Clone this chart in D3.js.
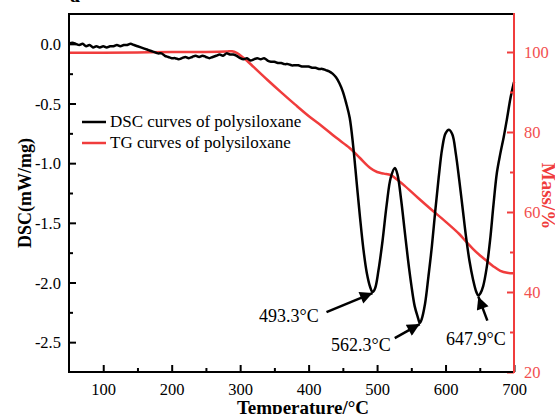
<!DOCTYPE html>
<html>
<head>
<meta charset="utf-8">
<script src="https://cdn.jsdelivr.net/npm/d3@7"></script>
<style>
  html, body { margin: 0; padding: 0; background: #fff; }
  svg { display: block; }
  svg text { font-family: "Liberation Serif", "Times New Roman", serif !important; }
</style>
</head>
<body>
<svg id="chart" width="555" height="414" font-family="Liberation Serif, serif"></svg>
<script>
// ---------- data ----------
const dscTemp = [50,55,60,65,70,75,80,85,90,95,100,105,110,115,120,125,130,135,140,145,150,155,160,165,170,175,180,185,190,195,200,205,210,215,220,225,230,235,240,245,250,255,260,265,270,275,280,285,290,295,300,305,310,315,320,325,330,335,340,345,350,355,360,365,370,375,380,385,390,395,400,405,410,415,420,425,430,435,440,445,450,455,460,465,470,475,480,485,490,493.3,497,502,508,514,520,526,530,535,540,545,550,555,560,562.3,565,570,575,580,585,590,595,600,605,610,615,620,625,630,635,640,645,647.9,651,655,660,665,670,675,680,685,690,695,700];
const dscValue = [0.00,0.01,0.00,-0.01,0.00,-0.02,-0.01,-0.03,-0.02,-0.03,-0.02,-0.03,-0.02,-0.02,-0.01,-0.02,-0.01,-0.01,0.00,-0.01,-0.02,-0.03,-0.04,-0.05,-0.06,-0.07,-0.08,-0.08,-0.10,-0.11,-0.12,-0.12,-0.13,-0.12,-0.11,-0.12,-0.11,-0.10,-0.11,-0.10,-0.11,-0.12,-0.11,-0.10,-0.09,-0.10,-0.08,-0.09,-0.09,-0.10,-0.12,-0.13,-0.12,-0.14,-0.13,-0.12,-0.13,-0.12,-0.14,-0.15,-0.15,-0.16,-0.16,-0.17,-0.17,-0.18,-0.18,-0.18,-0.19,-0.19,-0.19,-0.20,-0.20,-0.21,-0.21,-0.22,-0.23,-0.25,-0.28,-0.33,-0.40,-0.50,-0.62,-0.85,-1.15,-1.45,-1.72,-1.92,-2.04,-2.08,-2.05,-1.90,-1.65,-1.35,-1.12,-1.04,-1.10,-1.30,-1.55,-1.80,-2.02,-2.20,-2.30,-2.34,-2.31,-2.18,-1.95,-1.70,-1.40,-1.12,-0.88,-0.75,-0.72,-0.76,-0.92,-1.14,-1.38,-1.62,-1.82,-1.97,-2.08,-2.11,-2.09,-2.03,-1.88,-1.65,-1.35,-1.08,-0.92,-0.78,-0.62,-0.45,-0.32];

const tgTemp = [50,100,150,200,250,280,288,295,300,310,320,340,360,380,400,420,440,460,475,490,500,510,520,530,540,560,580,600,620,630,640,650,660,670,680,690,700];
const tgMass = [99.8,99.8,99.9,100.0,100.0,100.1,100.2,99.8,99.2,97.8,96.2,93.0,89.9,86.9,84.0,81.4,78.6,76.0,73.5,71.0,70.0,69.6,69.2,68.0,66.6,63.5,60.5,57.6,54.5,52.6,50.8,49.2,47.8,46.4,45.3,44.8,44.7];

const xTicks = [100,200,300,400,500,600,700];
const xMinorTicks = [150,250,350,450,550,650];
const yLeftTicks = [0,-0.5,-1.0,-1.5,-2.0,-2.5];
const yLeftLabels = ["0.0","-0.5","-1.0","-1.5","-2.0","-2.5"];
const yLeftMinor = [-0.25,-0.75,-1.25,-1.75,-2.25];
const yRightTicks = [20,40,60,80,100];
const yRightMinor = [30,50,70,90];

const peakTemps = [493.3, 562.3, 647.9];
const peakLabels = ["493.3°C", "562.3°C", "647.9°C"];
const legendLabels = ["DSC curves of polysiloxane", "TG curves of polysiloxane"];

// ---------- layout ----------
const FONT = '"Liberation Serif", "Times New Roman", serif';
const svg = d3.select("#chart");
const L = 69, R = 514, T = 14, B = 372;
const black = "#000";
const red = "#f03c3c";
const redText = "#f25050";

const x = d3.scaleLinear().domain([50, 700]).range([L, R]);
const yL = d3.scaleLinear().domain([-2.75, 0.25]).range([B, T]);
const yR = d3.scaleLinear().domain([20, 109.5]).range([B, T]);

const dsc = dscTemp.map((t, i) => ({t, v: dscValue[i]}));
const tg = tgTemp.map((t, i) => ({t, v: tgMass[i]}));

// curves
svg.append("path")
  .datum(tg)
  .attr("fill", "none")
  .attr("stroke", red)
  .attr("stroke-width", 2.5)
  .attr("d", d3.line().x(d => x(d.t)).y(d => yR(d.v)).curve(d3.curveCatmullRom));

svg.append("path")
  .datum(dsc)
  .attr("fill", "none")
  .attr("stroke", black)
  .attr("stroke-width", 2.5)
  .attr("stroke-linejoin", "round")
  .attr("d", d3.line().x(d => x(d.t)).y(d => yL(d.v)).curve(d3.curveCatmullRom));

// axes
const gx = svg.append("g").attr("transform", `translate(0,${B})`)
  .call(d3.axisBottom(x).tickValues(xTicks).tickSize(-7).tickPadding(11).tickFormat(d3.format("d")));
const gxm = svg.append("g").attr("transform", `translate(0,${B})`)
  .call(d3.axisBottom(x).tickValues(xMinorTicks).tickSize(-4).tickFormat(""));

const gy = svg.append("g").attr("transform", `translate(${L},0)`)
  .call(d3.axisLeft(yL).tickValues(yLeftTicks).tickSize(-7).tickPadding(8)
    .tickFormat((d, i) => yLeftLabels[i]));
const gym = svg.append("g").attr("transform", `translate(${L},0)`)
  .call(d3.axisLeft(yL).tickValues(yLeftMinor).tickSize(-4).tickFormat(""));

const gr = svg.append("g").attr("transform", `translate(${R},0)`)
  .call(d3.axisRight(yR).tickValues(yRightTicks).tickSize(-7).tickPadding(10).tickFormat(d3.format("d")));
const grm = svg.append("g").attr("transform", `translate(${R},0)`)
  .call(d3.axisRight(yR).tickValues(yRightMinor).tickSize(-4).tickFormat(""));

[gx, gxm, gy, gym, gr, grm].forEach(g => g.attr("font-family", FONT).attr("font-size", 16.5));
[gx, gxm, gy, gym].forEach(g => {
  g.select(".domain").remove();
  g.selectAll(".tick line").attr("stroke", black).attr("stroke-width", 2);
  g.selectAll(".tick text").attr("fill", black);
});
[gr, grm].forEach(g => {
  g.select(".domain").remove();
  g.selectAll(".tick line").attr("stroke", red).attr("stroke-width", 2);
  g.selectAll(".tick text").attr("fill", redText);
});
gy.selectAll(".tick text").attr("dy", "0.35em");
gr.selectAll(".tick text").attr("dy", "0.35em");

// frame
svg.append("line").attr("x1", L).attr("x2", R).attr("y1", T).attr("y2", T)
  .attr("stroke", black).attr("stroke-width", 2);
svg.append("line").attr("x1", L).attr("x2", L).attr("y1", T - 1).attr("y2", B + 1)
  .attr("stroke", black).attr("stroke-width", 2);
svg.append("line").attr("x1", L - 1).attr("x2", R).attr("y1", B).attr("y2", B)
  .attr("stroke", black).attr("stroke-width", 2);
svg.append("line").attr("x1", R).attr("x2", R).attr("y1", T - 1).attr("y2", B + 1)
  .attr("stroke", red).attr("stroke-width", 2);

// axis titles
svg.append("text").attr("transform", `translate(31,${(T + B) / 2}) rotate(-90)`)
  .attr("text-anchor", "middle").attr("font-family", FONT).attr("font-size", 18).attr("font-weight", "bold")
  .attr("fill", black).text("DSC(mW/mg)");
svg.append("text").attr("x", 303).attr("y", 414)
  .attr("text-anchor", "middle").attr("font-family", FONT).attr("font-size", 19).attr("font-weight", "bold")
  .attr("fill", black).text("Temperature/°C");
svg.append("text").attr("transform", `translate(542,196) rotate(90)`)
  .attr("text-anchor", "middle").attr("font-family", FONT).attr("font-size", 19).attr("font-weight", "bold")
  .attr("fill", red).text("Mass/%");

// partial panel letter at top-left
svg.append("text").attr("x", 70).attr("y", 2).attr("font-family", FONT).attr("font-size", 20)
  .attr("font-weight", "bold").attr("fill", black).text("a");

// legend
const legColors = [black, red];
legendLabels.forEach((lab, i) => {
  const yy = 122 + i * 21;
  svg.append("line").attr("x1", 82).attr("x2", 106).attr("y1", yy).attr("y2", yy)
    .attr("stroke", legColors[i]).attr("stroke-width", 2.5);
  svg.append("text").attr("x", 110).attr("y", yy + 5).attr("font-family", FONT).attr("font-size", 17)
    .attr("fill", black).text(lab);
});

// peak annotations
const defs = svg.append("defs");
defs.append("marker").attr("id", "arr").attr("viewBox", "0 0 10 10")
  .attr("refX", 10).attr("refY", 5).attr("markerWidth", 6).attr("markerHeight", 5)
  .attr("markerUnits", "strokeWidth").attr("orient", "auto")
  .append("path").attr("d", "M0,0 L10,5 L0,10 z").attr("fill", black);

const dscAt = t => dscValue[dscTemp.indexOf(t)];
const arrowOff = [[-46, 20], [-25, 15], [9, 25]];
peakTemps.forEach((t, i) => {
  const px = x(t), py = yL(dscAt(t));
  svg.append("line")
    .attr("x1", px + arrowOff[i][0]).attr("y1", py + arrowOff[i][1])
    .attr("x2", px).attr("y2", py + 1)
    .attr("stroke", black).attr("stroke-width", 2.5)
    .attr("marker-end", "url(#arr)");
});
const lblXY = [[259, 322], [331, 351], [446, 345]];
peakLabels.forEach((lab, i) => {
  svg.append("text").attr("x", lblXY[i][0]).attr("y", lblXY[i][1])
    .attr("font-family", FONT).attr("font-size", 18).attr("fill", black).text(lab);
});
</script>
</body>
</html>
